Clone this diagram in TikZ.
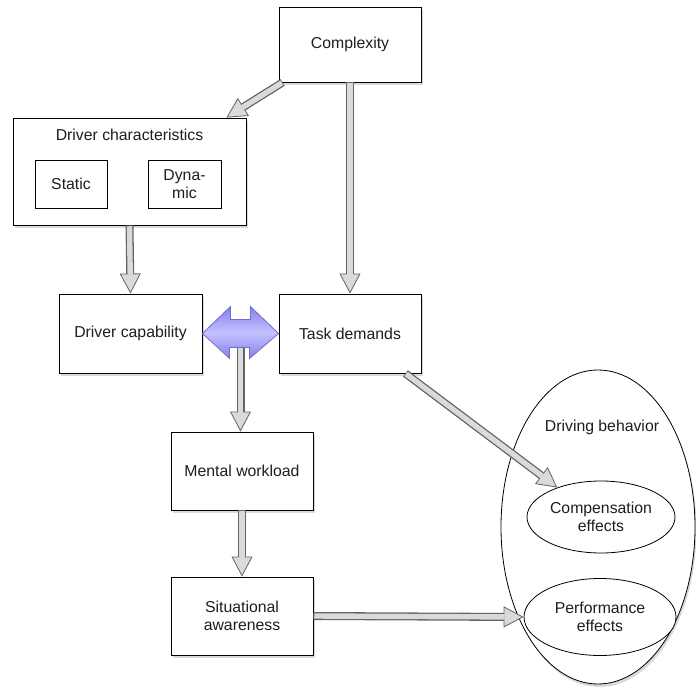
\documentclass[tikz,border=0pt]{standalone}
\usepackage{fontspec}
\setmainfont{Liberation Sans}
\usetikzlibrary{arrows.meta,shapes.geometric,shadows,calc}
\definecolor{gcol}{RGB}{100,100,100}
\definecolor{gfill}{RGB}{218,218,218}
\definecolor{txt}{RGB}{30,30,30}
\definecolor{pdark}{RGB}{112,108,214}
\definecolor{plight}{RGB}{196,194,255}
\definecolor{pmid}{RGB}{132,128,234}
\begin{document}
\begin{tikzpicture}[x=1pt,y=-1pt,
  font={\fontsize{15.8}{18.5}\selectfont},
  shad/.style={drop shadow={shadow xshift=1.5pt,shadow yshift=-3pt,opacity=0.3}},
  inbox/.style={draw=black,line width=0.9pt,fill=white,rectangle,inner sep=0pt,text=txt,align=center},
  box/.style={inbox,shad},
  ellin/.style={draw=black,line width=0.8pt,fill=white,ellipse,inner sep=0pt,text=txt,align=center},
  lbl/.style={text=txt,inner sep=0pt},
  garrow/.style={draw=gcol,line width=8pt,
    -{Triangle[length=20pt,width=21pt,line width=0.8pt,fill=gfill]},
    postaction={draw=gfill,line width=5.4pt,-,shorten >=19pt,shorten <=0.8pt}},
  parrow/.style={draw=pdark,line width=0.8pt,shading=axis,top color=pmid,bottom color=pmid,middle color=plight}
]
\useasboundingbox (0,0) rectangle (696,687);

% nodes
\node[box,minimum width=142pt,minimum height=75pt] (cx) at (350,44.5) {Complexity};
\node[box,minimum width=233pt,minimum height=107pt] (dc) at (129.5,171.5) {};
\node[lbl] (dct) at (129.5,135) {Driver characteristics};
\node[inbox,minimum width=72pt,minimum height=48pt] (st) at (71,184) {Static};
\node[inbox,minimum width=73pt,minimum height=48pt] (dy) at (184.5,184) {Dyna-\\mic};
\node[box,minimum width=143pt,minimum height=79pt] (cap) at (130.5,333.5) {Driver capability};
\node[box,minimum width=142pt,minimum height=79pt] (task) at (350,333.5) {Task demands};
\node[box,minimum width=142pt,minimum height=78pt] (mw) at (242,471) {Mental workload};
\node[box,minimum width=142pt,minimum height=78pt] (sa) at (242,616) {Situational\\awareness};
\node[ellin,shad,minimum width=194pt,minimum height=314pt] (db) at (598,527) {};
\node[lbl] (dbt) at (602,427) {Driving behavior};
\node[ellin,minimum width=148pt,minimum height=72pt] (comp) at (601,517) {Compensation\\effects};
\node[ellin,minimum width=152pt,minimum height=77pt] (perf) at (600,617) {Performance\\effects};

% connectors
\draw[garrow] ($(cx.south west)+(4,0)$) -- ($(dc.north east)+(-20,0)$);
\draw[garrow] (cx.south) -- (task.north);
\draw[garrow] (dc.south) -- (cap.north);
\draw[parrow] (cap.east) -- ++(28,-27) -- ++(0,13) -- ++(20,0) -- ++(0,-13)
  -- (task.west) -- ++(-29,25) -- ++(0,-11) -- ++(-20,0) -- ++(0,11) -- cycle;
\coordinate (mid) at ($(cap.east)!0.5!(task.west)+(0,14)$);
\draw[garrow] (mid) -- (mid |- mw.north);
\draw[garrow] (mw.south) -- (sa.north);
\draw[garrow] ($(task.south east)+(-16,0)$) -- (comp.146);
\draw[garrow] (sa.east) -- (perf.west);
\end{tikzpicture}
\end{document}
